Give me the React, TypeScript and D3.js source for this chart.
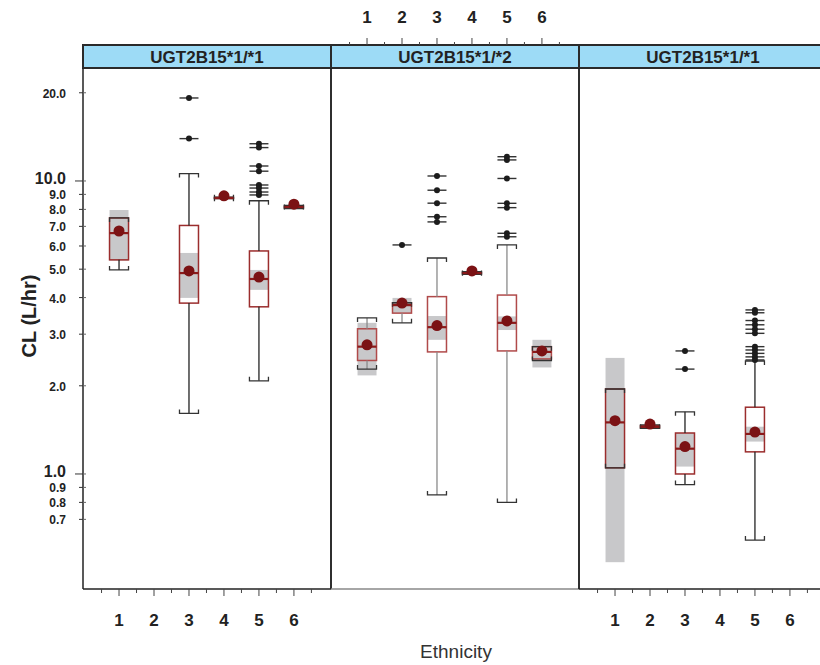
import React from 'react';
import * as d3 from 'd3';

// facet strips
const panelTitles = ['UGT2B15*1/*1', 'UGT2B15*1/*2', 'UGT2B15*1/*1'];
const ethnicityTicks = [1, 2, 3, 4, 5, 6];
const halfTicks = [0.5, 1.5, 2.5, 3.5, 4.5, 5.5, 6.5];
const yTickValues = [20, 10, 9, 8, 7, 6, 5, 4, 3, 2, 1, 0.9, 0.8, 0.7];
const yTickLabels = ['20.0', '10.0', '9.0', '8.0', '7.0', '6.0', '5.0', '4.0', '3.0', '2.0', '1.0', '0.9', '0.8', '0.7'];
const yMajor = [10, 1];

// one entry per box
const groupPanel = [0, 0, 0, 0, 0, 1, 1, 1, 1, 1, 1, 2, 2, 2, 2];
const groupEthnicity = [1, 3, 4, 5, 6, 1, 2, 3, 4, 5, 6, 1, 2, 3, 5];
const whiskerLow = [4.97, 1.61, 8.7, 2.08, 8.05, 2.28, 3.28, 0.848, 4.8, 0.8, 2.44, 1.05, 1.43, 0.92, 0.595];
const q1 = [5.38, 3.83, 8.72, 3.72, 8.1, 2.44, 3.54, 2.61, 4.83, 2.63, 2.47, 1.05, 1.44, 1.0, 1.19];
const median = [6.64, 4.85, 8.75, 4.63, 8.15, 2.72, 3.77, 3.17, 4.85, 3.28, 2.61, 1.5, 1.45, 1.22, 1.37];
const q3 = [7.48, 7.05, 8.78, 5.77, 8.2, 3.13, 3.84, 4.03, 4.87, 4.08, 2.72, 1.95, 1.46, 1.38, 1.69];
const whiskerHigh = [7.48, 10.6, 8.8, 8.56, 8.25, 3.41, 3.84, 5.46, 4.9, 6.05, 2.72, 1.95, 1.47, 1.63, 2.43];
const means = [6.75, 4.93, 8.9, 4.7, 8.33, 2.76, 3.83, 3.21, 4.93, 3.33, 2.63, 1.52, 1.48, 1.24, 1.39];
const ciLow = [5.35, 3.99, null, 4.25, null, 2.17, 3.54, 2.87, null, 3.1, 2.31, 0.5, null, 1.06, 1.29];
const ciHigh = [7.96, 5.68, null, 4.97, null, 3.28, 3.99, 3.46, null, 3.45, 2.87, 2.49, null, 1.38, 1.45];
const outliers = [
  [],
  [19.2, 13.95],
  [],
  [13.4, 13.0, 11.25, 10.8, 9.69, 9.46, 9.17, 8.96],
  [],
  [],
  [6.05],
  [10.4, 9.3, 8.4, 7.55, 7.25],
  [],
  [12.1, 11.8, 10.2, 8.39, 8.11, 6.63, 6.45],
  [],
  [],
  [],
  [2.63, 2.28],
  [3.63, 3.55, 3.34, 3.23, 3.12, 3.02, 2.72, 2.65, 2.58, 2.51, 2.45],
];

const W = 820;
const H = 665;
const panelLeft = [83, 331, 579];
const panelW = 248;
const top = 68;
const bottom = 589;
const stripTop = 45;
const font = '"Liberation Sans", Arial, sans-serif';

const App = () => {
  const y = d3.scaleLog().domain([0.405, 24.3]).range([bottom, top]);
  const x = d3.scaleLinear().domain([-0.03, 7.06]).range([0, panelW]);
  const half = 9.5;
  const cap = 4;

  return (
    <svg width={W} height={H} style={{ position: 'absolute', left: 0, top: 0, background: '#fff' }} fontFamily={font}>
      {/* strips */}
      {panelTitles.map((t, i) => (
        <g key={'s' + i}>
          <rect x={panelLeft[i]} y={stripTop} width={panelW} height={top - stripTop} fill="#9ddbf6" stroke="#2a2a2a" strokeWidth={2} />
          <text x={panelLeft[i] + panelW / 2} y={(stripTop + top) / 2 + 1} textAnchor="middle" dominantBaseline="central" fontSize={17} fontWeight="bold" fill="#222">{t}</text>
        </g>
      ))}

      {/* boxes */}
      {groupPanel.map((p, i) => {
        const cx = panelLeft[p] + x(groupEthnicity[i]);
        const dark = p === 1 ? '#8a8a8a' : '#222';
        const boxStroke = p === 1 ? '#b04a4a' : '#9b2d2d';
        const yq1 = y(q1[i]);
        const yq3 = y(q3[i]);
        const ylo = y(whiskerLow[i]);
        const yhi = y(whiskerHigh[i]);
        return (
          <g key={'b' + i}>
            <rect x={cx - half} y={yq3} width={half * 2} height={Math.max(0, yq1 - yq3)} fill="#fff" />
            {ciLow[i] != null && (
              <rect x={cx - half} y={y(ciHigh[i] as number)} width={half * 2} height={y(ciLow[i] as number) - y(ciHigh[i] as number)} fill="#c8c8ca" />
            )}
            <rect x={cx - half} y={yq3} width={half * 2} height={Math.max(0, yq1 - yq3)} fill="none" stroke={boxStroke} strokeWidth={1.5} />
            <line x1={cx} x2={cx} y1={yq3} y2={yhi} stroke={dark} strokeWidth={1.3} />
            <line x1={cx} x2={cx} y1={yq1} y2={ylo} stroke={dark} strokeWidth={1.3} />
            <path d={`M${cx - half},${yhi + cap}V${yhi}H${cx + half}V${yhi + cap}`} fill="none" stroke="#333" strokeWidth={1.3} />
            <path d={`M${cx - half},${ylo - cap}V${ylo}H${cx + half}V${ylo - cap}`} fill="none" stroke="#333" strokeWidth={1.3} />
            <line x1={cx - half} x2={cx + half} y1={y(median[i])} y2={y(median[i])} stroke="#8b1a1a" strokeWidth={2.2} />
            {outliers[i].map((v, j) => (
              <g key={j}>
                <line x1={cx - half} x2={cx + half} y1={y(v)} y2={y(v)} stroke="#333" strokeWidth={1.4} />
                <circle cx={cx} cy={y(v)} r={3} fill="#1c1c1c" />
              </g>
            ))}
            <circle cx={cx} cy={y(means[i])} r={5.5} fill="#7b1214" />
          </g>
        );
      })}

      {/* panel frames */}
      {panelLeft.map((l, i) => (
        <g key={'f' + i}>
          <line x1={l} x2={l} y1={top} y2={bottom} stroke="#222" strokeWidth={1.5} />
          <line x1={l} x2={l + panelW} y1={bottom} y2={bottom} stroke={i === 1 ? '#888' : '#222'} strokeWidth={1.5} />
          <line x1={l + panelW} x2={l + panelW} y1={top} y2={bottom} stroke="#222" strokeWidth={1.5} />
        </g>
      ))}

      {/* left axis */}
      {yTickValues.map((v, i) => {
        const major = yMajor.includes(v);
        return (
          <g key={'y' + i}>
            <line x1={panelLeft[0] - (major ? 8 : 4)} x2={panelLeft[0]} y1={y(v)} y2={y(v)} stroke="#333" strokeWidth={1} />
            <line x1={panelLeft[0]} x2={panelLeft[0] + 3} y1={y(v)} y2={y(v)} stroke="#666" strokeWidth={1} />
            <text x={66} y={y(v) + (major ? -2.5 : 1)} textAnchor="end" dominantBaseline="central" fontSize={major ? 16 : 12} fontWeight="bold" fill="#222">{yTickLabels[i]}</text>
          </g>
        );
      })}
      <text transform={`translate(36,316) rotate(-90)`} textAnchor="middle" fontSize={20} fontWeight="bold" fill="#222">CL (L/hr)</text>

      {/* bottom axes on panels 1 and 3, top axis on panel 2 */}
      {[0, 2].map((p) => (
        <g key={'bx' + p}>
          {ethnicityTicks.map((t) => (
            <g key={t}>
              <line x1={panelLeft[p] + x(t)} x2={panelLeft[p] + x(t)} y1={bottom} y2={bottom + 7} stroke="#444" strokeWidth={1} />
              <text x={panelLeft[p] + x(t)} y={620} textAnchor="middle" dominantBaseline="central" fontSize={17} fontWeight="bold" fill="#222">{t}</text>
            </g>
          ))}
          {halfTicks.map((t) => (
            <line key={'h' + t} x1={panelLeft[p] + x(t)} x2={panelLeft[p] + x(t)} y1={bottom} y2={bottom + 4} stroke="#444" strokeWidth={1} />
          ))}
        </g>
      ))}
      <g>
        {ethnicityTicks.map((t) => (
          <g key={'tx' + t}>
            <line x1={panelLeft[1] + x(t)} x2={panelLeft[1] + x(t)} y1={stripTop} y2={stripTop - 7} stroke="#444" strokeWidth={1} />
            <text x={panelLeft[1] + x(t)} y={17} textAnchor="middle" dominantBaseline="central" fontSize={17} fontWeight="bold" fill="#222">{t}</text>
          </g>
        ))}
        {halfTicks.map((t) => (
          <line key={'th' + t} x1={panelLeft[1] + x(t)} x2={panelLeft[1] + x(t)} y1={stripTop} y2={stripTop - 3} stroke="#444" strokeWidth={1} />
        ))}
      </g>
      <text x={456} y={651} textAnchor="middle" dominantBaseline="central" fontSize={19} fill="#333">Ethnicity</text>
    </svg>
  );
};

export default App;
